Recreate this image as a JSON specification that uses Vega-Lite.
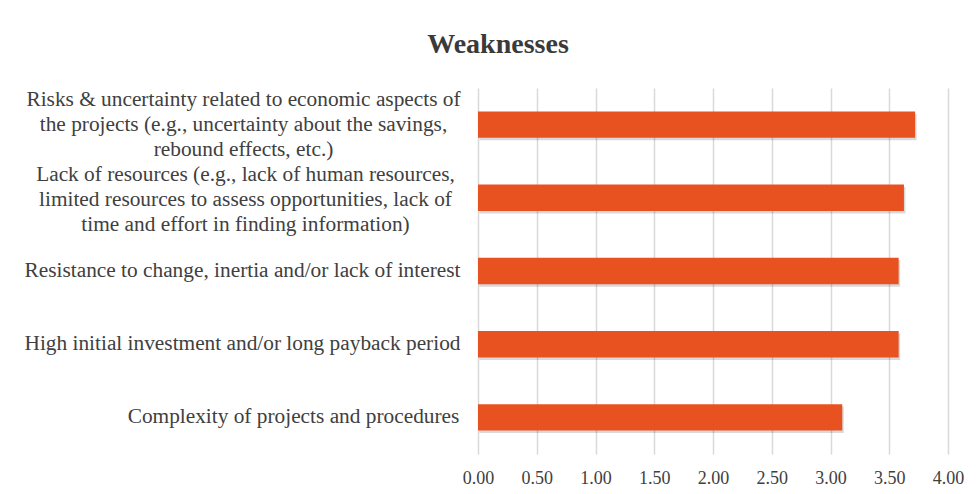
{
  "$schema": "https://vega.github.io/schema/vega-lite/v6.json",
  "autosize": "none",
  "width": 470,
  "height": 366,
  "padding": {"left": 478, "top": 88, "right": 28, "bottom": 40},
  "background": "white",
  "title": {
    "text": "Weaknesses",
    "font": "Liberation Serif",
    "fontSize": 28,
    "fontWeight": "bold",
    "color": "#3a3a3a",
    "anchor": "middle",
    "frame": "group",
    "baseline": "alphabetic",
    "offset": 7,
    "dx": -215
  },
  "data": {
    "values": [
      {"item": "Risks & uncertainty related to economic aspects of|the projects (e.g., uncertainty about the savings,|rebound effects, etc.)", "score": 3.72},
      {"item": "Lack of resources (e.g., lack of human resources,|limited resources to assess opportunities, lack of|time and effort in finding information)", "score": 3.625},
      {"item": "Resistance to change, inertia and/or lack of interest", "score": 3.58},
      {"item": "High initial investment and/or long payback period", "score": 3.58},
      {"item": "Complexity of projects and procedures", "score": 3.10}
    ]
  },
  "encoding": {
    "y": {
      "field": "item",
      "type": "nominal",
      "sort": null,
      "title": null,
      "scale": {"paddingInner": 0.64, "paddingOuter": 0.32},
      "axis": {
        "domain": false,
        "ticks": false,
        "labelExpr": "split(datum.label, '|')",
        "labelFont": "Liberation Serif",
        "labelFontSize": 21.33,
        "labelLineHeight": 25,
        "labelColor": "#404040",
        "labelAlign": "center",
        "labelBaseline": "middle",
        "labelLimit": 0,
        "labelPadding": {
          "condition": [
            {"test": "datum.value == 'Complexity of projects and procedures'", "value": 185},
            {"test": "datum.value == 'Lack of resources (e.g., lack of human resources,|limited resources to assess opportunities, lack of|time and effort in finding information)'", "value": 233},
            {"test": "datum.value == 'Risks & uncertainty related to economic aspects of|the projects (e.g., uncertainty about the savings,|rebound effects, etc.)'", "value": 235}
          ],
          "value": 236
        },
        "labelOffset": {
          "condition": [
            {"test": "datum.value == 'Lack of resources (e.g., lack of human resources,|limited resources to assess opportunities, lack of|time and effort in finding information)'", "value": -23},
            {"test": "datum.value == 'Risks & uncertainty related to economic aspects of|the projects (e.g., uncertainty about the savings,|rebound effects, etc.)'", "value": -25}
          ],
          "value": 0
        }
      }
    },
    "x": {
      "field": "score",
      "type": "quantitative",
      "title": null,
      "scale": {"domain": [0, 4]},
      "axis": {
        "values": [0, 0.5, 1, 1.5, 2, 2.5, 3, 3.5, 4],
        "format": ".2f",
        "domain": false,
        "ticks": false,
        "grid": true,
        "gridColor": "#d9d9d9",
        "gridWidth": 1.5,
        "labelFlush": false,
        "labelOverlap": false,
        "labelFont": "Liberation Serif",
        "labelFontSize": 18,
        "labelColor": "#404040",
        "labelPadding": 15
      }
    }
  },
  "layer": [
    {"mark": {"type": "bar", "color": "#000000", "opacity": 0.15, "xOffset": 1.5, "yOffset": 2.5}},
    {"mark": {"type": "bar", "color": "#E85221"}}
  ],
  "config": {
    "view": {"stroke": null}
  }
}
